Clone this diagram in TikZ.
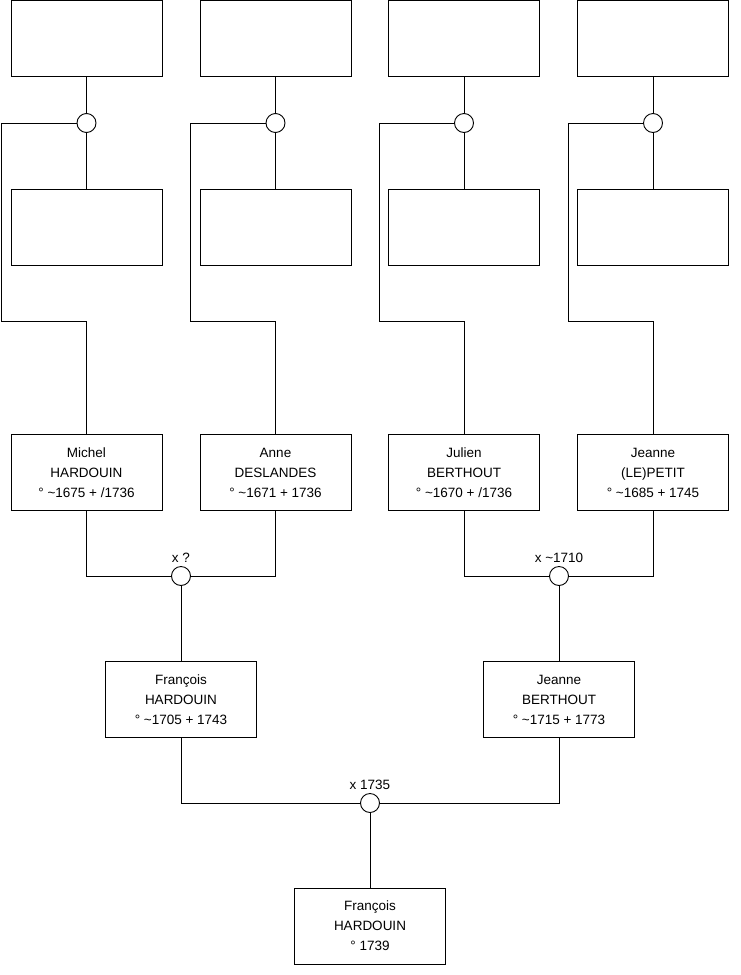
\documentclass[tikz,border=0pt]{standalone}
\usepackage{fontspec}
\setmainfont{Liberation Sans}
\usetikzlibrary{positioning}

\begin{document}
\begin{tikzpicture}[
    x=1pt, y=-1pt,
    font=\fontsize{13.5}{20}\selectfont,
    every node/.style={align=center},
    person/.style={draw, line width=0.9pt, fill=white, minimum width=151pt, minimum height=76pt, inner sep=0pt},
    union/.style={draw, circle, line width=0.9pt, fill=white, minimum size=19pt, inner sep=0pt},
    link/.style={line width=0.9pt}
]
\useasboundingbox (0,0) rectangle (740,975);

% =========================================================
% Great-grandparents (empty boxes)
% =========================================================
\foreach \i/\x/\l in {1/86.5/1.5, 2/275.5/190.5, 3/464/379.5, 4/653/568.5} {
    \node[person] (t\i) at (\x, 38)  {};
    \node[person] (m\i) at (\x, 227) {};
    \coordinate (k\i) at (\l, 321);
}

% =========================================================
% Grandparents
% =========================================================
\node[person] (p1) at (86.5, 472.5) {Michel\\HARDOUIN\\° \textasciitilde1675 + /1736};
\node[person] (p2) at (275.5, 472.5) {Anne\\DESLANDES\\° \textasciitilde1671 + 1736};
\node[person] (p3) at (464, 472.5) {Julien\\BERTHOUT\\° \textasciitilde1670 + /1736};
\node[person] (p4) at (653, 472.5) {Jeanne\\(LE)PETIT\\° \textasciitilde1685 + 1745};

% Unions above each grandparent
\foreach \i in {1,...,4} {
    \node[union] (g\i) at (t\i |- 0,123) {};
    \draw[link] (t\i) -- (g\i) -- (m\i);
    \draw[link] (g\i.west) -| (k\i) -| (p\i.north);
}

% =========================================================
% Parents
% =========================================================
\node[union, label={[label distance=0pt]above:x ?}] (ua) at (181, 576) {};
\node[union, label={[label distance=0pt]above:x \textasciitilde1710}] (ub) at (559, 576) {};

\node[person] (c1) at (181, 699.5) {François\\HARDOUIN\\° \textasciitilde1705 + 1743};
\node[person] (c2) at (559, 699.5) {Jeanne\\BERTHOUT\\° \textasciitilde1715 + 1773};

\draw[link] (p1.south) |- (ua.west);
\draw[link] (p2.south) |- (ua.east);
\draw[link] (p3.south) |- (ub.west);
\draw[link] (p4.south) |- (ub.east);
\draw[link] (ua) -- (c1);
\draw[link] (ub) -- (c2);

% =========================================================
% Child
% =========================================================
\node[union, label={[label distance=0pt]above:x 1735}] (uc) at (370, 803) {};
\node[person] (f) at (370, 926) {François\\HARDOUIN\\° 1739};

\draw[link] (c1.south) |- (uc.west);
\draw[link] (c2.south) |- (uc.east);
\draw[link] (uc) -- (f);

\end{tikzpicture}
\end{document}
